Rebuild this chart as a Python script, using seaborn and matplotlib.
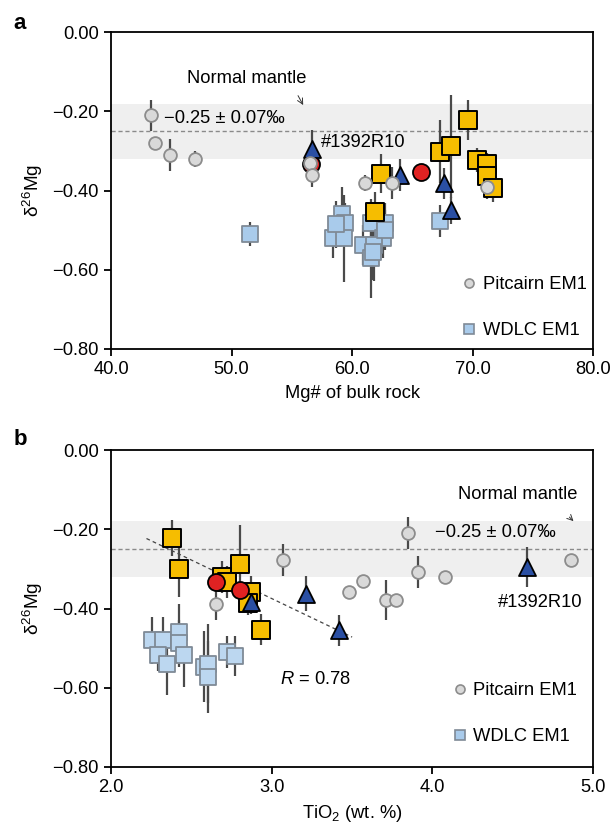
import numpy as np
import matplotlib
matplotlib.use("Agg")
from matplotlib import pyplot as plt
from matplotlib.lines import Line2D
from matplotlib.ticker import FuncFormatter, MultipleLocator
import seaborn as sns

# ---- panel a: Mg# of bulk rock ----
a_pit_x = [43.3, 43.6, 44.9, 47.0, 56.5, 56.7, 61.05, 63.35, 71.2]
a_pit_y = [-0.21, -0.28, -0.31, -0.32, -0.33, -0.36, -0.38, -0.38, -0.39]
a_pit_e = [0.04, 0.0, 0.04, 0.02, 0.0, 0.03, 0.02, 0.04, 0.03]

a_wdlc_x = [51.5, 59.2, 59.4, 58.4, 59.3, 58.7, 61.6, 62.7, 62.6, 60.9, 61.8, 61.6, 61.7, 62.7, 67.3]
a_wdlc_y = [-0.51, -0.46, -0.481, -0.519, -0.52, -0.485, -0.481, -0.481, -0.519, -0.538,
            -0.538, -0.57, -0.555, -0.50, -0.477]
a_wdlc_e = [0.03, 0.07, 0.05, 0.05, 0.11, 0.06, 0.06, 0.05, 0.05, 0.05, 0.09, 0.10, 0.07, 0.05, 0.04]

a_yel_x = [62.4, 61.9, 67.3, 68.2, 69.6, 70.4, 71.2, 71.2, 71.7]
a_yel_y = [-0.357, -0.453, -0.302, -0.288, -0.222, -0.322, -0.334, -0.364, -0.393]
a_yel_e = [0.05, 0.05, 0.08, 0.13, 0.05, 0.03, 0.03, 0.03, 0.035]

a_red_x = [56.6, 65.7]
a_red_y = [-0.332, -0.354]

a_tri_x = [56.7, 64.0, 67.6, 68.2]
a_tri_y = [-0.296, -0.361, -0.382, -0.45]
a_tri_e = [0.05, 0.04, 0.04, 0.035]

# ---- panel b: TiO2 ----
b_pit_x = [3.85, 3.07, 4.86, 3.91, 4.08, 3.57, 3.48, 3.71, 3.77, 2.65]
b_pit_y = [-0.209, -0.278, -0.278, -0.308, -0.32, -0.33, -0.359, -0.379, -0.379, -0.389]
b_pit_e = [0.04, 0.04, 0.0, 0.04, 0.015, 0.015, 0.015, 0.05, 0.015, 0.04]

b_wdlc_x = [2.255, 2.32, 2.42, 2.42, 2.455, 2.29, 2.35, 2.58, 2.60, 2.60, 2.72, 2.77]
b_wdlc_y = [-0.48, -0.48, -0.459, -0.488, -0.518, -0.518, -0.539, -0.547, -0.539, -0.573,
            -0.509, -0.52]
b_wdlc_e = [0.06, 0.06, 0.07, 0.06, 0.08, 0.04, 0.08, 0.09, 0.10, 0.09, 0.04, 0.05]

b_yel_x = [2.38, 2.42, 2.80, 2.69, 2.72, 2.87, 2.85, 2.93]
b_yel_y = [-0.221, -0.301, -0.288, -0.32, -0.333, -0.358, -0.387, -0.453]
b_yel_e = [0.045, 0.07, 0.10, 0.04, 0.04, 0.04, 0.03, 0.04]

b_red_x = [2.65, 2.80]
b_red_y = [-0.333, -0.354]

b_tri_x = [4.59, 3.21, 3.42, 2.87]
b_tri_y = [-0.295, -0.362, -0.455, -0.383]
b_tri_e = [0.05, 0.045, 0.04, 0.03]

trend_x = [2.22, 3.50]
trend_y = [-0.223, -0.472]

mantle_mean = -0.25
mantle_2sd = 0.07

sns.set_style("ticks")
plt.rcParams['font.family'] = ['Liberation Sans', 'DejaVu Sans']
plt.rcParams['mathtext.fontset'] = 'custom'
plt.rcParams['mathtext.rm'] = 'Liberation Sans'
plt.rcParams['mathtext.it'] = 'Liberation Sans:italic'
plt.rcParams['axes.unicode_minus'] = True
plt.rcParams['text.color'] = 'black'
plt.rcParams['axes.labelcolor'] = 'black'

ERR = "#4a4a4a"
FS = 13.2


def fmt(nd):
    return FuncFormatter(lambda v, p: "{:.{}f}".format(v, nd).replace("-", "\u2212"))


def draw_group(ax, x, y, e, marker, s, face, edge, lw, z):
    if e is not None:
        ax.errorbar(x, y, yerr=e, fmt="none", ecolor=ERR, elinewidth=1.6,
                    capsize=0, zorder=1.5)
    sns.scatterplot(x=x, y=y, ax=ax, marker=marker, s=s, color=face,
                    edgecolor=edge, linewidth=lw, zorder=z, legend=False)


def base(ax, xlim, xstep, xlabel):
    ax.axhspan(mantle_mean - mantle_2sd, mantle_mean + mantle_2sd,
               color="#efefef", zorder=0, lw=0)
    ax.axhline(mantle_mean, color="#8a8a8a", lw=1, ls=(0, (3, 2)), zorder=0.5)
    ax.set_xlim(*xlim)
    ax.set_ylim(-0.8, 0.0)
    ax.xaxis.set_major_locator(MultipleLocator(xstep))
    ax.yaxis.set_major_locator(MultipleLocator(0.2))
    ax.xaxis.set_major_formatter(fmt(1))
    ax.yaxis.set_major_formatter(fmt(2))
    ax.tick_params(axis="both", direction="out", length=5, width=1.3,
                   labelsize=FS, pad=4, colors="black")
    for sp in ax.spines.values():
        sp.set_linewidth(1.3)
        sp.set_color("black")
    ax.set_xlabel(xlabel, fontsize=FS, labelpad=5)
    ax.set_ylabel(r"$\mathregular{\delta^{26}Mg}$", fontsize=FS + 0.5, labelpad=5)
    handles = [
        Line2D([], [], ls="none", marker="o", ms=6.5, mfc="#d9d9d9", mec="#8c8c8c", mew=1.2),
        Line2D([], [], ls="none", marker="s", ms=6.5, mfc="#a9cbeb", mec="#7f8a96", mew=1.2),
    ]
    return handles


fig = plt.figure(figsize=(6.14, 8.27), dpi=100)
axa = fig.add_axes([0.181, 0.578, 0.785, 0.383])
axb = fig.add_axes([0.181, 0.0726, 0.785, 0.383])

# panel a
h = base(axa, (40, 80), 10, "Mg# of bulk rock")
draw_group(axa, a_wdlc_x, a_wdlc_y, a_wdlc_e, "s", 120, "#a9cbeb", "#7f8a96", 1.3, 2)
draw_group(axa, a_yel_x, a_yel_y, a_yel_e, "s", 175, "#f6bd00", "black", 1.4, 3)
draw_group(axa, a_red_x, a_red_y, None, "o", 150, "#e02222", "black", 1.3, 4)
draw_group(axa, a_tri_x, a_tri_y, a_tri_e, "^", 150, "#2a4fa3", "black", 1.3, 5)
draw_group(axa, a_pit_x, a_pit_y, a_pit_e, "o", 85, "#d9d9d9", "#8c8c8c", 1.3, 6)
axa.legend(h, ["Pitcairn EM1", "WDLC EM1"], loc="center left",
           bbox_to_anchor=(0.69, 0.13), frameon=False, fontsize=FS,
           labelspacing=1.6, handletextpad=0.25, handlelength=1.0)
axa.text(51.25, -0.117, "Normal mantle", fontsize=FS, ha="center", va="center")
axa.annotate("", xy=(56.05, -0.19), xytext=(55.4, -0.154),
             arrowprops=dict(arrowstyle="->", lw=0.7, color="#333333"))
axa.text(44.4, -0.218, "\u22120.25 \u00b1 0.07\u2030", fontsize=FS, ha="left", va="center")
axa.text(57.4, -0.279, "#1392R10", fontsize=FS, ha="left", va="center")

# panel b
h = base(axb, (2, 5), 1, r"TiO$_2$ (wt. %)")
axb.plot(trend_x, trend_y, color="#444444", lw=0.9, ls=(0, (3, 2.5)), zorder=1)
draw_group(axb, b_wdlc_x, b_wdlc_y, b_wdlc_e, "s", 120, "#bcd7f0", "#7f8a96", 1.3, 2)
draw_group(axb, b_yel_x, b_yel_y, b_yel_e, "s", 175, "#f6bd00", "black", 1.4, 3)
draw_group(axb, b_red_x, b_red_y, None, "o", 150, "#e02222", "black", 1.3, 4)
draw_group(axb, b_tri_x, b_tri_y, b_tri_e, "^", 150, "#2a4fa3", "black", 1.3, 5)
draw_group(axb, b_pit_x, b_pit_y, b_pit_e, "o", 85, "#d9d9d9", "#8c8c8c", 1.3, 6)
axb.legend(h, ["Pitcairn EM1", "WDLC EM1"], loc="center left",
           bbox_to_anchor=(0.67, 0.168), frameon=False, fontsize=FS,
           labelspacing=1.6, handletextpad=0.25, handlelength=1.0)
axb.text(4.53, -0.111, "Normal mantle", fontsize=FS, ha="center", va="center")
axb.annotate("", xy=(4.89, -0.184), xytext=(4.84, -0.164),
             arrowprops=dict(arrowstyle="->", lw=0.7, color="#333333"))
axb.text(4.39, -0.209, "\u22120.25 \u00b1 0.07\u2030", fontsize=FS, ha="center", va="center")
axb.text(4.67, -0.385, "#1392R10", fontsize=FS, ha="center", va="center")
axb.text(3.27, -0.58, r"$\mathit{R}$ = 0.78", fontsize=FS, ha="center", va="center")

fig.text(0.022, 0.972, "a", fontsize=16, fontweight="bold", va="center")
fig.text(0.022, 0.469, "b", fontsize=16, fontweight="bold", va="center")

fig.savefig("out.png", dpi=100)
plt.close("all")
